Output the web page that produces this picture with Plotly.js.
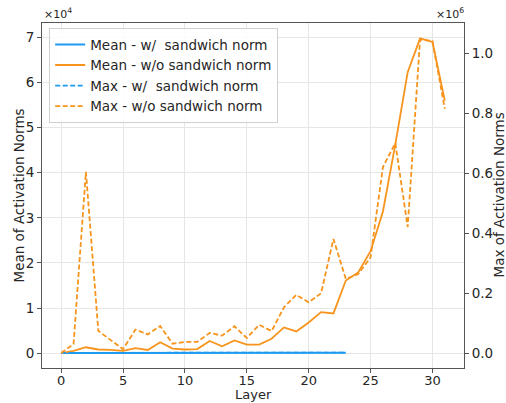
<!DOCTYPE html>
<html>
<head>
<meta charset="utf-8">
<script src="https://cdn.plot.ly/plotly-3.0.1.min.js"></script>
<style>html,body{margin:0;padding:0;background:#fff;}#chart{width:506px;height:403px;}</style>
</head>
<body>
<div id="chart"></div>
<script>
// ---- data ----
const layersAll = [0,1,2,3,4,5,6,7,8,9,10,11,12,13,14,15,16,17,18,19,20,21,22,23,24,25,26,27,28,29,30,31];
const layersWith = [0,1,2,3,4,5,6,7,8,9,10,11,12,13,14,15,16,17,18,19,20,21,22,23];

// Mean of activation norms (left axis)
const meanWith = [20,30,35,35,40,40,45,45,50,50,55,55,60,60,60,65,65,70,70,75,75,80,80,85];
const meanWithout = [0,500,1300,800,700,500,1100,700,2400,1000,800,900,2700,1500,2800,1900,1900,3200,5700,4800,6800,9100,8800,16100,17900,22600,31400,46300,62300,69800,69000,56000];

// Max of activation norms (right axis)
const maxWith = [300,400,500,500,600,600,700,700,800,800,900,900,1000,1000,1100,1100,1200,1200,1300,1300,1400,1400,1500,1500];
const maxWithout = [0,30000,604000,74000,43000,13000,78000,62000,90000,31000,37000,37000,67000,58000,89000,50000,94000,73000,152000,194000,169000,199000,380000,247000,263000,319000,620000,700000,420000,1045000,1040000,814000];

const xTicks = [0,5,10,15,20,25,30];
const yLeftTicks = [0,10000,20000,30000,40000,50000,60000,70000];
const yLeftLabels = ['0','1','2','3','4','5','6','7'];
const yRightTicks = [0,200000,400000,600000,800000,1000000];
const yRightLabels = ['0.0','0.2','0.4','0.6','0.8','1.0'];

const names = ['Mean - w/ \u00a0sandwich norm','Mean - w/o sandwich norm','Max - w/ \u00a0sandwich norm','Max - w/o sandwich norm'];
const xTitle = 'Layer';
const yLeftTitle = 'Mean of Activation Norms';
const yRightTitle = 'Max of Activation Norms';

const BLUE = '#1E9BF0';
const ORANGE = '#F7941D';
const FONT = 'DejaVu Sans, sans-serif';
const TXT = '#262626';

const traces = [
  {x: layersWith, y: meanWith, name: names[0], type: 'scatter', mode: 'lines', line: {color: BLUE, width: 2}, yaxis: 'y'},
  {x: layersAll, y: meanWithout, name: names[1], type: 'scatter', mode: 'lines', line: {color: ORANGE, width: 1.8}, yaxis: 'y'},
  {x: layersWith, y: maxWith, name: names[2], type: 'scatter', mode: 'lines', line: {color: BLUE, width: 1.8, dash: '5px,2.5px'}, yaxis: 'y2'},
  {x: layersAll, y: maxWithout, name: names[3], type: 'scatter', mode: 'lines', line: {color: ORANGE, width: 1.8, dash: '5px,2.5px'}, yaxis: 'y2'}
];

const axisCommon = {
  showline: true, linecolor: '#555', linewidth: 1,
  ticks: 'outside', ticklen: 4, tickcolor: '#555', tickwidth: 1,
  tickfont: {family: FONT, size: 13.5, color: TXT},
  zeroline: false, automargin: false
};
const titleFont = {family: FONT, size: 13.5, color: TXT};

const layout = {
  width: 506, height: 403,
  margin: {l: 42, r: 42, t: 23, b: 35},
  paper_bgcolor: '#fff', plot_bgcolor: '#fff',
  font: {family: FONT, color: TXT},
  showlegend: true,
  legend: {
    x: 0.017, y: 0.985, xanchor: 'left', yanchor: 'top',
    bgcolor: 'rgba(255,255,255,0.85)', bordercolor: '#d0d0d0', borderwidth: 1,
    font: {family: FONT, size: 13.5, color: TXT},
    tracegroupgap: 0
  },
  xaxis: Object.assign({}, axisCommon, {
    range: [-1.55, 32.55], tickvals: xTicks, mirror: true, ticklabelstandoff: -4,
    tickfont: {family: FONT, size: 13, color: TXT},
    showgrid: true, gridcolor: '#e6e6e6', gridwidth: 1
  }),
  yaxis: Object.assign({}, axisCommon, {
    range: [-3300, 73200], tickvals: yLeftTicks, ticktext: yLeftLabels,
    showgrid: true, gridcolor: '#e6e6e6', gridwidth: 1
  }),
  yaxis2: Object.assign({}, axisCommon, {
    overlaying: 'y', side: 'right', anchor: 'x',
    range: [-50000, 1100000], tickvals: yRightTicks, ticktext: yRightLabels,
    showgrid: false
  }),
  annotations: [
    {xref: 'paper', yref: 'paper', x: 0, y: 1, xanchor: 'left', yanchor: 'bottom', showarrow: false,
     text: '×10<sup>4</sup>', font: {family: FONT, size: 11, color: TXT}},
    {xref: 'paper', yref: 'paper', x: 1, y: 1, xanchor: 'right', yanchor: 'bottom', showarrow: false,
     text: '×10<sup>6</sup>', font: {family: FONT, size: 11, color: TXT}, xshift: 2},
    {xref: 'paper', yref: 'paper', x: 0.5, y: 0, xanchor: 'center', yanchor: 'bottom', showarrow: false,
     text: xTitle, font: {family: FONT, size: 13, color: TXT}, yshift: -35, borderpad: 0},
    {xref: 'paper', yref: 'paper', x: 0, y: 0.5, xanchor: 'center', yanchor: 'middle', showarrow: false,
     text: yLeftTitle, font: titleFont, textangle: -90, xshift: -24},
    {xref: 'paper', yref: 'paper', x: 1, y: 0.5, xanchor: 'center', yanchor: 'middle', showarrow: false,
     text: yRightTitle, font: titleFont, textangle: -90, xshift: 34}
  ]
};

Plotly.newPlot('chart', traces, layout, {staticPlot: true, displayModeBar: false});
</script>
</body>
</html>
